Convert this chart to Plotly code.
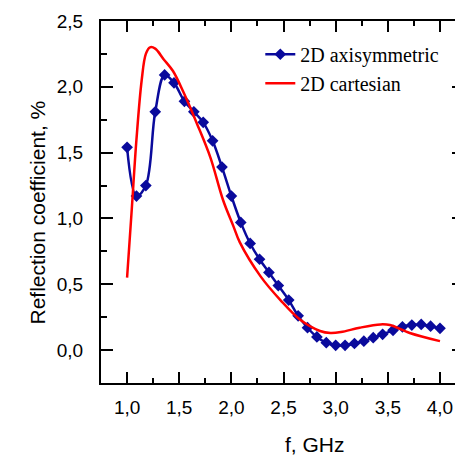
import plotly.graph_objects as go

# --- data ---
freq_axi = [1.00, 1.09, 1.18, 1.27, 1.36, 1.45, 1.55, 1.64, 1.73, 1.82, 1.91,
            2.00, 2.09, 2.18, 2.27, 2.36, 2.45, 2.55, 2.64, 2.73, 2.82, 2.91,
            3.00, 3.09, 3.18, 3.27, 3.36, 3.45, 3.55, 3.64, 3.73, 3.82, 3.91, 4.00]
refl_axi = [1.54, 1.17, 1.25, 1.81, 2.09, 2.03, 1.89, 1.81, 1.73, 1.59, 1.39,
            1.17, 0.97, 0.81, 0.69, 0.59, 0.49, 0.38, 0.26, 0.17, 0.10, 0.056,
            0.036, 0.036, 0.05, 0.068, 0.094, 0.12, 0.15, 0.177, 0.19, 0.195, 0.182, 0.165]

freq_cart = [1.00, 1.045, 1.09, 1.14, 1.18, 1.22, 1.27, 1.35, 1.44, 1.54, 1.67,
             1.80, 1.92, 2.02, 2.08, 2.28, 2.47, 2.66, 2.85, 2.95, 3.05, 3.23,
             3.43, 3.52, 3.71, 4.00]
refl_cart = [0.55, 1.07, 1.60, 2.05, 2.25, 2.30, 2.29, 2.21, 2.12, 1.96, 1.72,
             1.46, 1.14, 0.94, 0.82, 0.56, 0.38, 0.23, 0.145, 0.13, 0.137, 0.17,
             0.195, 0.19, 0.13, 0.068]

x_ticks = [1.0, 1.5, 2.0, 2.5, 3.0, 3.5, 4.0]
x_tick_labels = ["1,0", "1,5", "2,0", "2,5", "3,0", "3,5", "4,0"]
y_ticks = [0.0, 0.5, 1.0, 1.5, 2.0, 2.5]
y_tick_labels = ["0,0", "0,5", "1,0", "1,5", "2,0", "2,5"]

x_title = "f, GHz"
y_title = "Reflection coefficient, %"

BLUE = "#0a0a9c"
RED = "#ff0000"
SANS = "Liberation Sans, Arial, sans-serif"
SERIF = "Liberation Serif, Times New Roman, serif"

fig = go.Figure()
fig.add_trace(go.Scatter(
    x=freq_axi, y=refl_axi, name="2D axisymmetric", mode="lines+markers",
    line=dict(color=BLUE, width=2.5, shape="spline", smoothing=1.0),
    marker=dict(symbol="diamond", size=9, color=BLUE),
))
fig.add_trace(go.Scatter(
    x=freq_cart, y=refl_cart, name="2D cartesian", mode="lines",
    line=dict(color=RED, width=2.5, shape="spline", smoothing=1.0),
))
# invisible trace to host the right-side tick marks
fig.add_trace(go.Scatter(x=[None], y=[None], yaxis="y2", showlegend=False))

fig.update_layout(
    width=455, height=455,
    margin=dict(l=101, r=0, t=21, b=72, autoexpand=False),
    paper_bgcolor="white", plot_bgcolor="white",
    showlegend=True,
    legend=dict(x=0.45, y=0.962, xanchor="left", yanchor="top",
                font=dict(family=SERIF, size=20, color="black"),
                bgcolor="rgba(0,0,0,0)", tracegroupgap=0, itemwidth=30),
    xaxis=dict(
        range=[0.75, 4.144], showline=True, linecolor="black", linewidth=2,
        mirror="ticks", showgrid=False, zeroline=False, automargin=False,
        ticks="inside", ticklen=11, tickwidth=2, tickcolor="black",
        tickvals=x_ticks, ticktext=x_tick_labels,
        tickfont=dict(family=SANS, size=19, color="black"),
        ticklabelstandoff=6,
        minor=dict(ticks="inside", ticklen=5, tickwidth=2, tickcolor="black",
                   dtick=0.25, showgrid=False),
    ),
    yaxis=dict(
        range=[-0.25, 2.5], showline=True, linecolor="black", linewidth=2,
        mirror=False, showgrid=False, zeroline=False, automargin=False,
        ticks="inside", ticklen=12, tickwidth=2, tickcolor="black",
        tickvals=y_ticks, ticktext=y_tick_labels,
        tickfont=dict(family=SANS, size=19, color="black"),
        ticklabelstandoff=12,
        minor=dict(ticks="inside", ticklen=6, tickwidth=2, tickcolor="black",
                   dtick=0.25, showgrid=False),
    ),
    yaxis2=dict(
        range=[-0.25, 2.5], overlaying="y", anchor="free", position=1,
        side="right", showline=False, showgrid=False, zeroline=False,
        automargin=False,
        ticks="inside", ticklen=3, tickwidth=2, tickcolor="black",
        tickvals=y_ticks, showticklabels=False,
    ),
    annotations=[
        dict(text=x_title, xref="paper", yref="paper", x=0.605, y=-0.17,
             xanchor="center", yanchor="middle", showarrow=False,
             font=dict(family=SANS, size=21, color="black")),
        dict(text=y_title, xref="paper", yref="paper", x=-0.179, y=0.47,
             xanchor="center", yanchor="middle", showarrow=False, textangle=-90,
             font=dict(family=SANS, size=21, color="black")),
    ],
)

# remove the default 8px page margin so the 455x455 figure fills the window
fig.write_html("out.html",
               config={"displayModeBar": False},
               post_script="document.body.style.margin='0';"
                           "document.body.style.overflow='hidden';")
